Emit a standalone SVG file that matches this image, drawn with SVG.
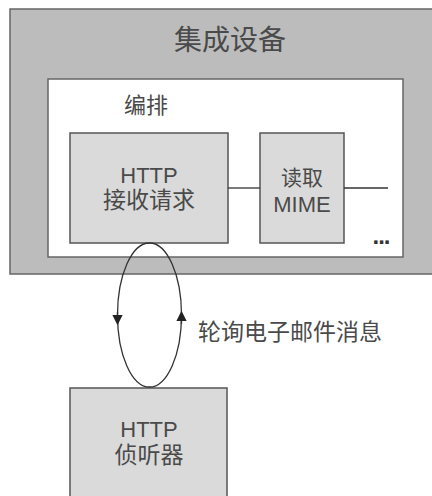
<svg xmlns="http://www.w3.org/2000/svg" width="432" height="496" viewBox="0 0 432 496">
<defs>
<style>
.box{fill:#dadada;stroke:#555;stroke-width:1.5}
.t{font-family:"Liberation Sans","Noto Sans CJK SC",sans-serif;fill:#4a4a4a;text-anchor:middle}
.line{stroke:#333;stroke-width:1.3;fill:none}
</style>
<marker id="ah" viewBox="0 0 10 10" refX="5" refY="5" markerWidth="8" markerHeight="8" orient="auto">
<path d="M0,0 L10,5 L0,10 z" fill="#222"/>
</marker>
</defs>
<rect width="432" height="496" fill="#fff"/>
<g id="integration-device">
<rect x="10" y="9" width="424" height="265" fill="#bcbcbc" stroke="#666" stroke-width="1.5"/>
<text class="t" x="230" y="50" font-size="28">集成设备</text>
</g>
<g id="orchestration">
<rect x="48" y="79" width="355" height="178" fill="#fff" stroke="#666" stroke-width="1.5"/>
<text class="t" x="146" y="113" font-size="22">编排</text>
</g>
<g id="http-receive">
<rect class="box" x="70" y="133" width="158" height="110"/>
<text class="t" x="149" y="183" font-size="22">HTTP</text>
<text class="t" x="149" y="208" font-size="23">接收请求</text>
</g>
<g id="read-mime">
<rect class="box" x="260" y="133" width="84" height="110"/>
<text class="t" x="302" y="185" font-size="21">读取</text>
<text class="t" x="302" y="212" font-size="22">MIME</text>
</g>
<g id="ellipsis">
<text x="381" y="244" font-family="Liberation Sans,sans-serif" font-size="24" font-weight="bold" fill="#333" text-anchor="middle" letter-spacing="-1">...</text>
</g>
<g id="http-listener">
<rect class="box" x="70" y="388" width="157" height="112"/>
<text class="t" x="149" y="437" font-size="22">HTTP</text>
<text class="t" x="149" y="463" font-size="23">侦听器</text>
</g>
<g id="connectors">
<line class="line" x1="228" y1="188" x2="260" y2="188"/>
<line class="line" x1="344" y1="188" x2="388" y2="188"/>
<ellipse class="line" cx="149.5" cy="315" rx="32" ry="72"/>
<path class="line" d="M117.5,312 L117.5,320" marker-end="url(#ah)"/>
<path class="line" d="M181.5,324 L181.5,316" marker-end="url(#ah)"/>
<text class="t" x="290" y="340" font-size="23">轮询电子邮件消息</text>
</g>
</svg>
